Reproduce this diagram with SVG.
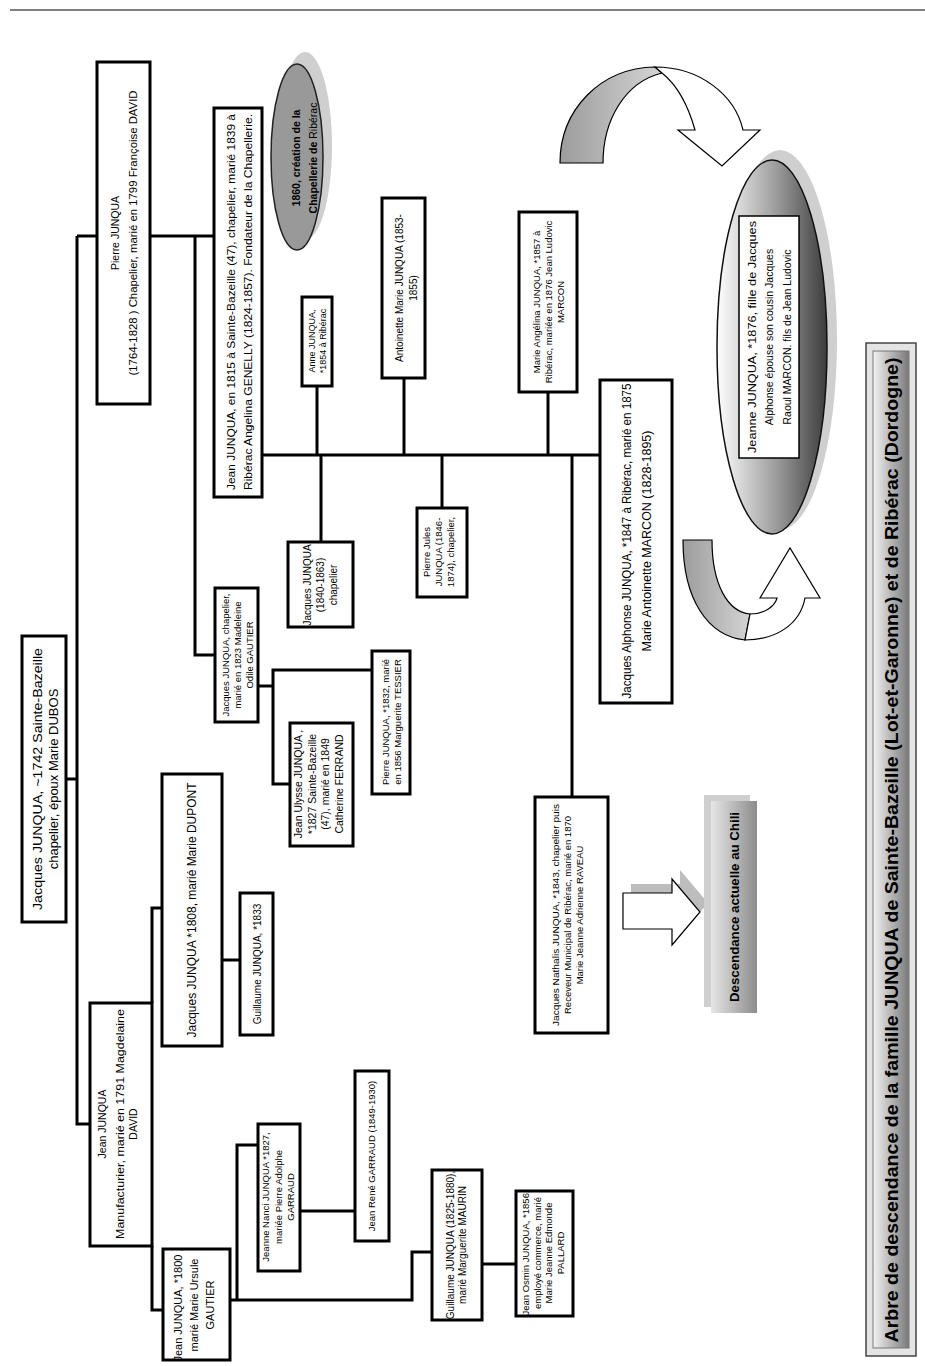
<svg xmlns="http://www.w3.org/2000/svg" width="925" height="1366" viewBox="0 0 925 1366">
<defs>
<linearGradient id="gEll" x1="0" y1="0" x2="1" y2="0"><stop offset="0" stop-color="#ffffff"/><stop offset="0.55" stop-color="#9a9a9a"/><stop offset="1" stop-color="#3c3c3c"/></linearGradient>
<linearGradient id="gTitle" x1="0" y1="0" x2="1" y2="0"><stop offset="0" stop-color="#f2f2f2"/><stop offset="1" stop-color="#7a7a7a"/></linearGradient>
<linearGradient id="gDesc" x1="0" y1="0" x2="1" y2="0"><stop offset="0" stop-color="#e6e6e6"/><stop offset="1" stop-color="#8c8c8c"/></linearGradient>
<linearGradient id="gArc" x1="0" y1="0" x2="1" y2="0"><stop offset="0" stop-color="#9c9c9c"/><stop offset="1" stop-color="#d4d4d4"/></linearGradient>
<style>
.box{fill:#fff;stroke:#000;stroke-width:3}
.ln{stroke:#000;stroke-width:3;fill:none}
.t{font-family:"Liberation Sans",Arial,sans-serif;fill:#000;text-anchor:middle}
.b{font-weight:bold}
</style>
</defs>
<line x1="10" y1="10" x2="925" y2="10" stroke="#555" stroke-width="1.5"/>

<g id="connectors">
<polyline class="ln" points="66,779 77,779"/>
<polyline class="ln" points="77,236 77,1124 90,1124"/>
<polyline class="ln" points="77,236 97,236"/>
<polyline class="ln" points="150,236 214,236"/>
<polyline class="ln" points="195,236 195,655 215,655"/>
<polyline class="ln" points="262,455 600,455"/>
<polyline class="ln" points="317,386 317,455"/>
<polyline class="ln" points="404,378 404,455"/>
<polyline class="ln" points="548,392 548,455"/>
<polyline class="ln" points="321,455 321,542"/>
<polyline class="ln" points="442,455 442,508"/>
<polyline class="ln" points="572,455 572,797"/>
<polyline class="ln" points="258,686 273,686"/>
<polyline class="ln" points="372,670 273,670 273,784 290,784"/>
<polyline class="ln" points="152,1003 152,908 162,908"/>
<polyline class="ln" points="222,960 240,960"/>
<polyline class="ln" points="152,1246 152,1310 163,1310"/>
<polyline class="ln" points="230,1300 412,1300 412,1252 432,1252"/>
<polyline class="ln" points="258,1145 237,1145 237,1300"/>
<polyline class="ln" points="300,1211 355,1211"/>
<polyline class="ln" points="482,1264 516,1264"/>
</g>

<g id="root">
<rect class="box" x="22" y="636" width="44" height="286"/>
<text class="t" font-size="13" transform="translate(41.5,779) rotate(-90)"><tspan x="0" y="0" textLength="262" lengthAdjust="spacingAndGlyphs">Jacques JUNQUA, ~1742 Sainte-Bazeille</tspan><tspan x="0" y="16">chapelier, époux Marie DUBOS</tspan></text>
</g>

<g id="pierre">
<rect class="box" x="97" y="62" width="53" height="342"/>
<text class="t" font-size="10.5" transform="translate(119,233) rotate(-90)"><tspan x="0" y="0">Pierre JUNQUA</tspan><tspan x="0" y="18" textLength="285" lengthAdjust="spacingAndGlyphs">(1764-1828 ) Chapelier, marié en 1799 Françoise DAVID</tspan></text>
</g>

<g id="jean1815">
<rect class="box" x="214" y="108" width="48" height="389"/>
<text class="t" font-size="11" transform="translate(235,302) rotate(-90)"><tspan x="0" y="0" textLength="376" lengthAdjust="spacingAndGlyphs">Jean JUNQUA, en 1815 à Sainte-Bazeille (47), chapelier, marié 1839 à</tspan><tspan x="0" y="17" textLength="376" lengthAdjust="spacingAndGlyphs">Ribérac Angelina GENELLY (1824-1857). Fondateur de la Chapellerie.</tspan></text>
</g>

<g id="chapellerie">
<ellipse cx="305" cy="146" rx="27" ry="94" fill="#cfcfcf"/>
<ellipse cx="297" cy="157" rx="26" ry="93" fill="#999" stroke="#222" stroke-width="1.5"/>
<text class="t b" font-size="10.5" transform="translate(300,158) rotate(-90)"><tspan x="0" y="0">1860, création de la</tspan><tspan x="0" y="17">Chapellerie de <tspan font-weight="normal">Ribérac</tspan></tspan></text>
</g>

<g id="anne">
<rect class="box" x="302" y="297" width="30" height="89"/>
<text class="t" font-size="9" transform="translate(315,341) rotate(-90)"><tspan x="0" y="0">Anne JUNQUA,</tspan><tspan x="0" y="11">*1854 à Ribérac</tspan></text>
</g>

<g id="antoinette">
<rect class="box" x="382" y="198" width="43" height="180"/>
<text class="t" font-size="10" transform="translate(402.5,288) rotate(-90)"><tspan x="0" y="0">Antoinette Marie JUNQUA (1853-</tspan><tspan x="0" y="14">1855)</tspan></text>
</g>

<g id="angelina">
<rect class="box" x="519" y="212" width="58" height="180"/>
<text class="t" font-size="9.5" transform="translate(540,302) rotate(-90)"><tspan x="0" y="0">Marie Angélina JUNQUA, *1857 à</tspan><tspan x="0" y="12">Ribérac, mariée en 1876 Jean Ludovic</tspan><tspan x="0" y="24">MARCON</tspan></text>
</g>

<g id="jacques1840">
<rect class="box" x="288" y="542" width="65" height="85"/>
<text class="t" font-size="10" transform="translate(310.5,585) rotate(-90)"><tspan x="0" y="0">Jacques JUNQUA</tspan><tspan x="0" y="13">(1840-1863)</tspan><tspan x="0" y="26">chapelier</tspan></text>
</g>

<g id="pierrejules">
<rect class="box" x="417" y="508" width="50" height="89"/>
<text class="t" font-size="9.5" transform="translate(430,552) rotate(-90)"><tspan x="0" y="0">Pierre Jules</tspan><tspan x="0" y="12">JUNQUA (1846-</tspan><tspan x="0" y="24">1874), chapelier,</tspan></text>
</g>

<g id="alphonse">
<rect class="box" x="600" y="380" width="72" height="323"/>
<text class="t" font-size="12.5" transform="translate(631,541) rotate(-90)"><tspan x="0" y="0" textLength="315" lengthAdjust="spacingAndGlyphs">Jacques Alphonse JUNQUA, *1847 à Ribérac, marié en 1875</tspan><tspan x="0" y="20">Marie Antoinette MARCON (1828-1895)</tspan></text>
</g>

<g id="jacques1823">
<rect class="box" x="215" y="588" width="43" height="134"/>
<text class="t" font-size="9.5" transform="translate(229,655) rotate(-90)"><tspan x="0" y="0">Jacques JUNQUA, chapelier,</tspan><tspan x="0" y="12">marié en 1823  Madeleine</tspan><tspan x="0" y="24">Odile GAUTIER</tspan></text>
</g>

<g id="pierre1832">
<rect class="box" x="372" y="651" width="38" height="143"/>
<text class="t" font-size="9.5" transform="translate(389,722) rotate(-90)"><tspan x="0" y="0">Pierre JUNQUA, *1832, marié</tspan><tspan x="0" y="12">en 1856 Marguerite TESSIER</tspan></text>
</g>

<g id="ulysse">
<rect class="box" x="290" y="723" width="63" height="123"/>
<text class="t" font-size="10.5" transform="translate(302,784) rotate(-90)"><tspan x="0" y="0">Jean Ulysse JUNQUA ,</tspan><tspan x="0" y="13.5">*1827 Sainte-Bazeille</tspan><tspan x="0" y="27">(47), marié en 1849</tspan><tspan x="0" y="40.5">Catherine FERRAND</tspan></text>
</g>

<g id="nathalis">
<rect class="box" x="535" y="797" width="73" height="236"/>
<text class="t" font-size="9.5" transform="translate(558.5,915) rotate(-90)"><tspan x="0" y="0" textLength="222" lengthAdjust="spacingAndGlyphs">Jacques Nathalis JUNQUA, *1843, chapelier puis</tspan><tspan x="0" y="12">Receveur Municipal de Ribérac, marié en 1870</tspan><tspan x="0" y="24">Marie Jeanne Adrienne RAVEAU</tspan></text>
</g>

<g id="arrow-chili">
<polygon points="631,884 680,884 680,870 708,903 680,936 680,920 631,920" fill="#bdbdbd"/>
<polygon points="623,893 672,893 672,879 700,912 672,945 672,929 623,929" fill="#fff" stroke="#000" stroke-width="1.2"/>
</g>

<g id="descendance">
<rect x="704" y="795" width="46" height="212" fill="#cfcfcf"/>
<rect x="711" y="801" width="46" height="212" fill="url(#gDesc)"/>
<text class="t b" font-size="13.5" transform="translate(739,907) rotate(-90)"><tspan x="0" y="0" textLength="190" lengthAdjust="spacingAndGlyphs">Descendance actuelle au Chili</tspan></text>
</g>

<g id="arc-top">
<path d="M560,163 C560,110 600,68 655,67 L662,73 C625,82 603,120 603,163 Z" fill="url(#gArc)" stroke="#000" stroke-width="1.2"/>
<path d="M655,67 C700,67 735,95 743,130 L760,130 L722,166 L678,130 L695,130 C688,105 677,85 662,73 Z" fill="#fff" stroke="#000" stroke-width="1.2"/>
</g>

<g id="arc-bottom">
<path d="M683,540 L712,540 C712,585 728,612 750,614 L745,640 C708,636 683,600 683,540 Z" fill="url(#gArc)" stroke="#000" stroke-width="1.2"/>
<path d="M750,614 C765,614 775,606 777,598 L760,598 L790,548 L820,598 L805,598 C800,625 775,640 745,640 Z" fill="#fff" stroke="#000" stroke-width="1.2"/>
</g>

<g id="jeanne1876">
<ellipse cx="780" cy="340" rx="57" ry="190" fill="#cfcfcf"/>
<ellipse cx="772" cy="347" rx="55" ry="187" fill="url(#gEll)" stroke="#111" stroke-width="1.5"/>
<rect x="739" y="216" width="60" height="242" fill="#fff" stroke="#000" stroke-width="1.5"/>
<text class="t" font-size="10.5" transform="translate(755.5,337) rotate(-90)"><tspan x="0" y="0" textLength="232" lengthAdjust="spacingAndGlyphs">Jeanne JUNQUA, *1876, fille de Jacques</tspan><tspan x="0" y="17.5">Alphonse épouse son cousin Jacques</tspan><tspan x="0" y="35">Raoul MARCON. fils de Jean Ludovic</tspan></text>
</g>

<g id="jeanmanuf">
<rect class="box" x="90" y="1003" width="62" height="243"/>
<text class="t" font-size="10.5" transform="translate(105.5,1124) rotate(-90)"><tspan x="0" y="0">Jean JUNQUA</tspan><tspan x="0" y="18" textLength="230" lengthAdjust="spacingAndGlyphs">Manufacturier, marié en 1791 Magdelaine</tspan><tspan x="0" y="31">DAVID</tspan></text>
</g>

<g id="jacques1808">
<rect class="box" x="162" y="774" width="60" height="272"/>
<text class="t" font-size="12" transform="translate(196,910) rotate(-90)"><tspan x="0" y="0" textLength="255" lengthAdjust="spacingAndGlyphs">Jacques JUNQUA *1808, marié Marie DUPONT</tspan></text>
</g>

<g id="guillaume1833">
<rect class="box" x="240" y="893" width="33" height="142"/>
<text class="t" font-size="10" transform="translate(260.5,964) rotate(-90)">Guillaume JUNQUA, *1833</text>
</g>

<g id="jean1800">
<rect class="box" x="163" y="1249" width="67" height="111"/>
<text class="t" font-size="11" transform="translate(182,1305) rotate(-90)"><tspan x="0" y="0">Jean JUNQUA, *1800 ,</tspan><tspan x="0" y="16">marié Marie Ursule</tspan><tspan x="0" y="32">GAUTIER</tspan></text>
</g>

<g id="jeannenanci">
<rect class="box" x="258" y="1124" width="42" height="147"/>
<text class="t" font-size="9.5" transform="translate(269,1197) rotate(-90)"><tspan x="0" y="0">Jeanne Nanci JUNQUA *1827,</tspan><tspan x="0" y="12.5">mariée Pierre Adolphe</tspan><tspan x="0" y="25">GARRAUD</tspan></text>
</g>

<g id="jeanrene">
<rect class="box" x="355" y="1071" width="34" height="170"/>
<text class="t" font-size="9.5" transform="translate(375,1156) rotate(-90)">Jean René GARRAUD (1849-1930)</text>
</g>

<g id="guillaume1825">
<rect class="box" x="432" y="1170" width="50" height="150"/>
<text class="t" font-size="10" transform="translate(453.5,1245) rotate(-90)"><tspan x="0" y="0">Guillaume JUNQUA (1825-1880),</tspan><tspan x="0" y="12.5">marié Marguerite MAURIN</tspan></text>
</g>

<g id="osmin">
<rect class="box" x="516" y="1191" width="57" height="125"/>
<text class="t" font-size="9.5" transform="translate(529,1253) rotate(-90)"><tspan x="0" y="0">Jean Osmin JUNQUA, *1856,</tspan><tspan x="0" y="11.5">employé commerce, marié</tspan><tspan x="0" y="23">Marie Jeanne Edmonde</tspan><tspan x="0" y="34.5">PALLARD</tspan></text>
</g>

<g id="title">
<rect x="866" y="343" width="50" height="1013" fill="#e4e4e4" stroke="#444" stroke-width="1.5"/>
<rect x="873" y="351" width="36" height="997" fill="url(#gTitle)" stroke="#777" stroke-width="1"/>
<text class="t b" font-size="18" transform="translate(898,850) rotate(-90)" textLength="985" lengthAdjust="spacingAndGlyphs">Arbre de descendance de la famille JUNQUA de Sainte-Bazeille (Lot-et-Garonne) et de Ribérac (Dordogne)</text>
</g>
</svg>
